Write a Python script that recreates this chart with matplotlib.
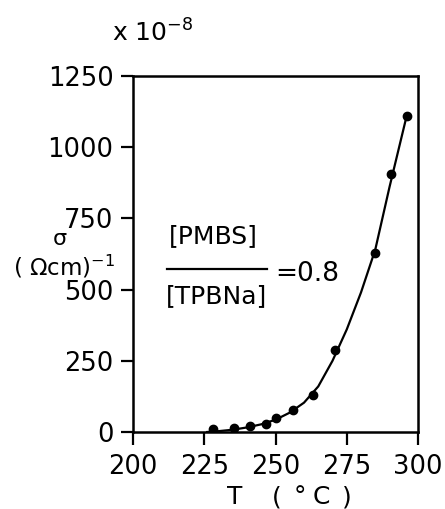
import matplotlib
matplotlib.use("Agg")
import matplotlib.pyplot as plt

# measured points
T_pts = [228, 235.5, 241, 246.5, 250, 256, 263, 271, 285, 290.5, 296]
sigma_pts = [10, 14, 21, 28, 49, 77, 130, 289, 630, 905, 1109]

# smooth drawn curve
T_curve = [226, 230, 235, 240, 245, 250, 255, 260, 265, 270, 275, 280, 285, 290, 296]
sigma_curve = [0, 3, 8, 16, 27, 43, 68, 103, 160, 250, 360, 490, 640, 860, 1109]

x_ticks = [200, 225, 250, 275, 300]
y_ticks = [0, 250, 500, 750, 1000, 1250]

plt.rcParams['font.family'] = ['DejaVu Sans']
fig = plt.figure(figsize=(4.45, 5.09), dpi=100)
ax = fig.add_axes([133/445, 1-432/509, (418-133)/445, (432-76)/509])

ax.plot(T_curve, sigma_curve, color='black', lw=1.6)
ax.plot(T_pts, sigma_pts, 'o', color='black', ms=6)

ax.set_xlim(200, 300)
ax.set_ylim(0, 1250)
ax.set_xticks(x_ticks)
ax.set_yticks(y_ticks)
ax.set_xticklabels([str(v) for v in x_ticks], fontsize=18.5)
ax.set_yticklabels([str(v) for v in y_ticks], fontsize=18.5)
ax.tick_params(direction='out', length=9, width=1.6, pad=5)
ax.tick_params(axis='x', pad=7)
for s in ax.spines.values():
    s.set_linewidth(1.8)

# y label pieces
fig.text(60/445, 1-239/509, 'σ', fontsize=16, ha='center', va='center')
fig.text(64/445, 1-267/509, '( Ωcm)$^{-1}$', fontsize=16.5, ha='center', va='center')
# multiplier
fig.text(112/445, 1-33/509, 'x 10$^{-8}$', fontsize=18, ha='left', va='center')
# x label
for s, xp in [('T', 235), ('(', 277), ('°', 300), ('C', 321), (')', 347)]:
    fig.text(xp/445, 1-497/509, s, fontsize=18, ha='center', va='center')

# annotation
fig.text(213/445, 1-236/509, '[PMBS]', fontsize=18, ha='center', va='center')
fig.text(216/445, 1-296/509, '[TPBNa]', fontsize=18, ha='center', va='center')
fig.add_artist(plt.Line2D([167/445, 267/445], [1-269/509, 1-269/509], color='black', lw=1.6))
fig.text(275/445, 1-274/509, '=0.8', fontsize=19, ha='left', va='center')

fig.savefig('out.png', dpi=100)
